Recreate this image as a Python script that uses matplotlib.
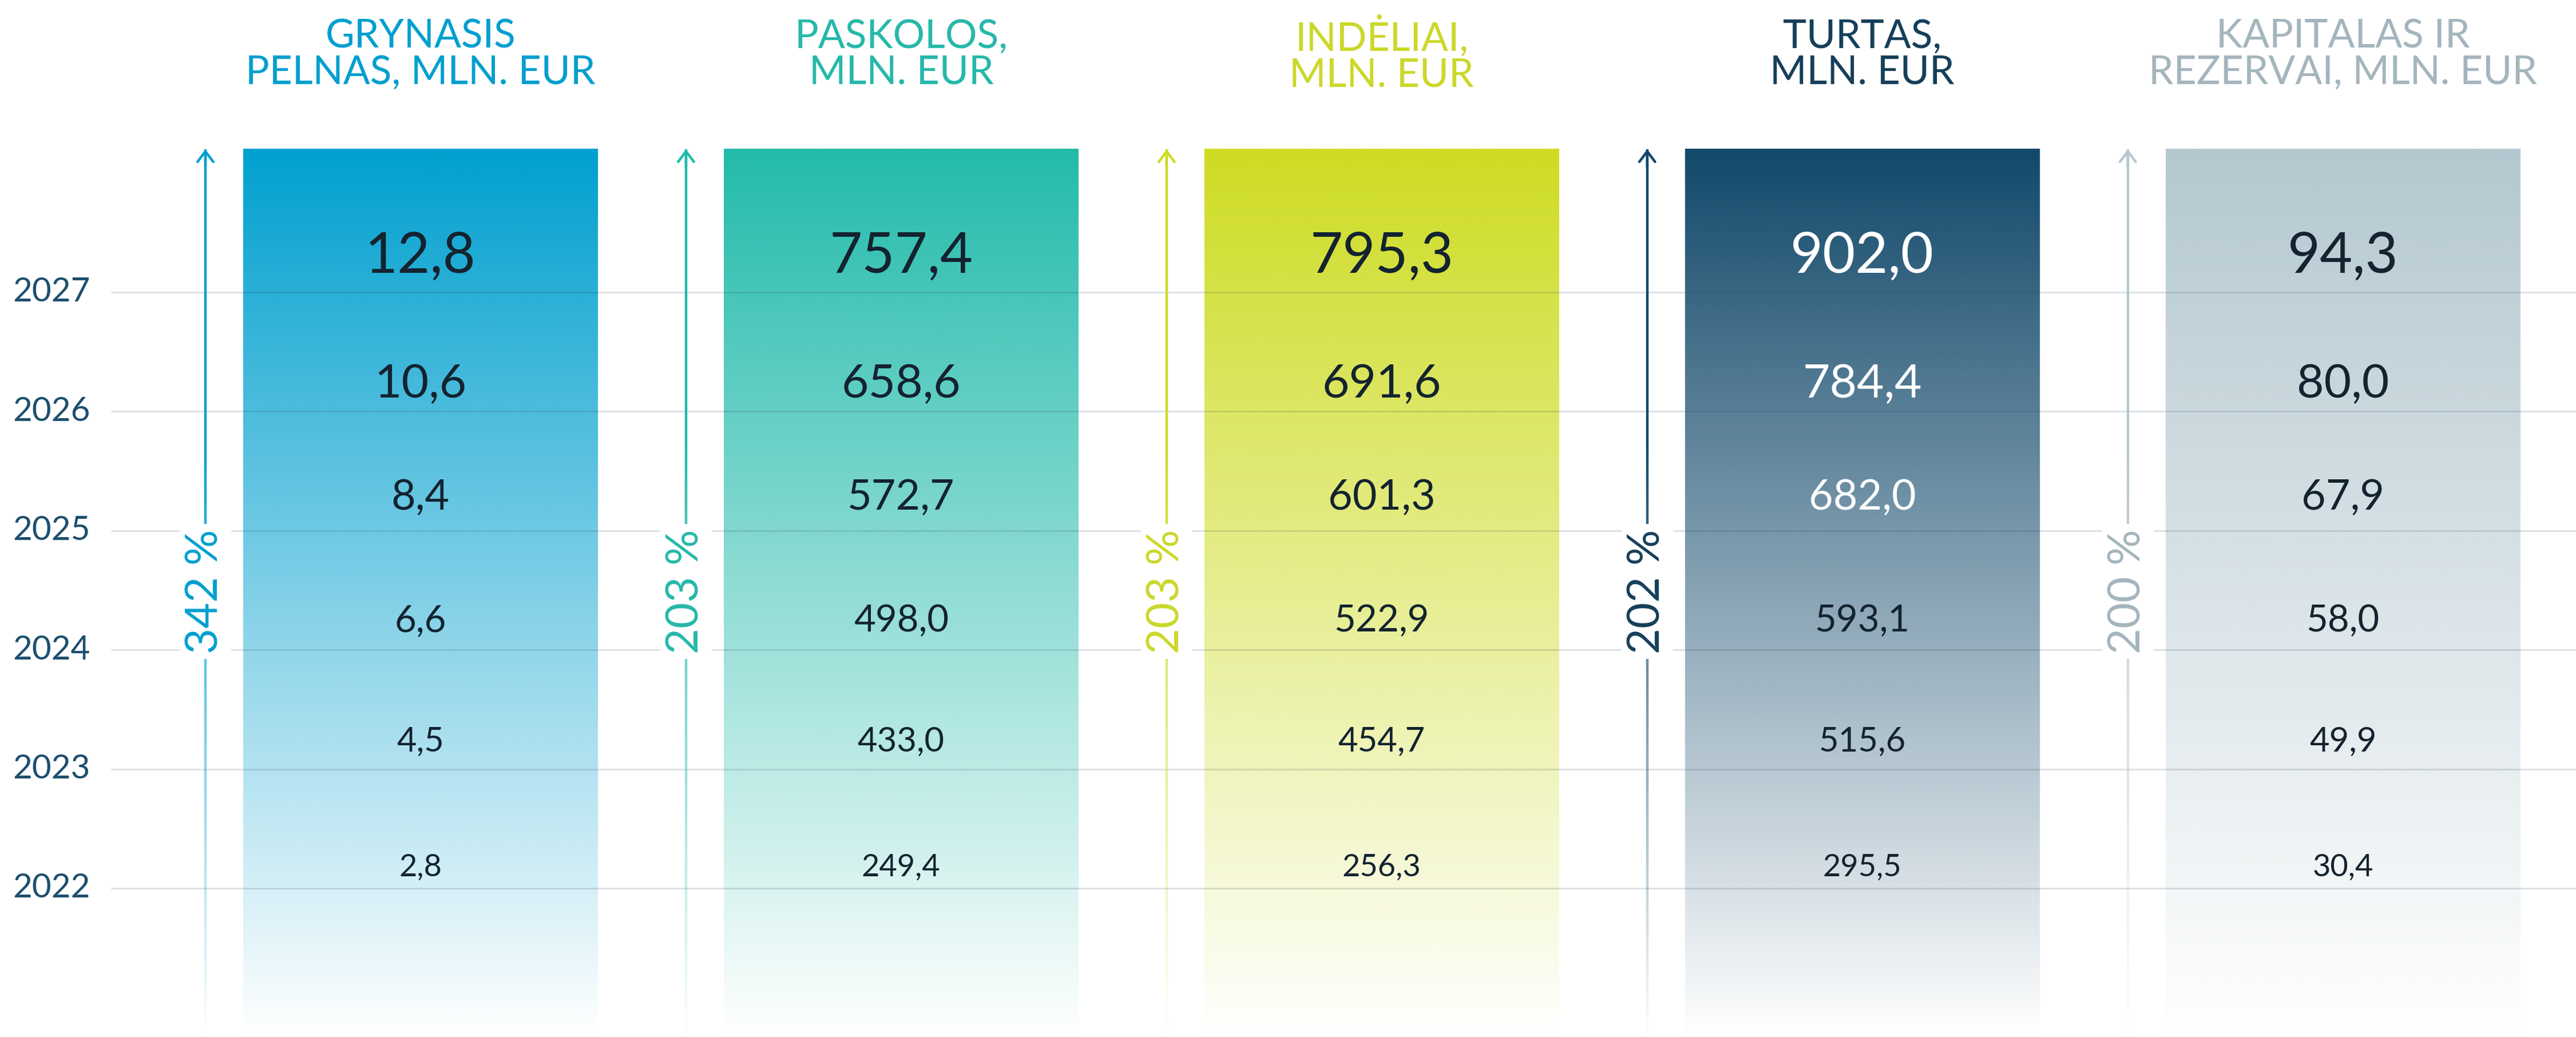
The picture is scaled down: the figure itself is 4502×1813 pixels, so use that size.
import numpy as np
import matplotlib.pyplot as plt
from matplotlib.collections import LineCollection
from matplotlib.colors import to_rgb

plt.rcParams['font.family'] = ['Lato', 'DejaVu Sans']

# Duomenys
YEARS = [2022, 2023, 2024, 2025, 2026, 2027]
TITLES = ["GRYNASIS\nPELNAS, MLN. EUR", "PASKOLOS,\nMLN. EUR", "INDĖLIAI,\nMLN. EUR",
          "TURTAS,\nMLN. EUR", "KAPITALAS IR\nREZERVAI, MLN. EUR"]
grynasis_pelnas = [2.8, 4.5, 6.6, 8.4, 10.6, 12.8]
paskolos = [249.4, 433.0, 498.0, 572.7, 658.6, 757.4]
indeliai = [256.3, 454.7, 522.9, 601.3, 691.6, 795.3]
turtas = [295.5, 515.6, 593.1, 682.0, 784.4, 902.0]
kapitalas = [30.4, 49.9, 58.0, 67.9, 80.0, 94.3]
GROWTH = [342, 203, 203, 202, 200]
SERIES = [grynasis_pelnas, paskolos, indeliai, turtas, kapitalas]

# Spalvos
BAR_COLORS = ['#00a0cf', '#22bbab', '#cedc22', '#11486a', '#b4c8d0']
TITLE_COLORS = ['#009fcf', '#26b8aa', '#cbd82a', '#153f5a', '#a4b5bd']
YEAR_COLOR = '#1d4f6e'
TEXT_DARK = '#13232f'
WHITE_LABELS = [(3, 2025), (3, 2026), (3, 2027)]

# Išdėstymas
Y_BOTTOM, Y_TOP = 2020.752, 2029.452
X_LEFT, X_RIGHT = -0.875, 4.485
BAR_HALF = 0.369
BAR_TOP = 2028.2
ARROW_DX = -0.4476
GRID_X0 = -0.644
LABEL_SIZES = [39, 43, 47, 53, 59, 71]
LABEL_OFFSETS = [0.103, 0.146, 0.156, 0.175, 0.118, 0.166]

fig = plt.figure(figsize=(45.02, 18.13), dpi=100)
ax = fig.add_axes([0, 0, 1, 1])
ax.axis('off')

n = 600
alpha = np.linspace(1.0, 0.0, n)

for i, (vals, col) in enumerate(zip(SERIES, BAR_COLORS)):
    rgb = np.array(to_rgb(col))
    img = np.zeros((n, 1, 4))
    img[:, 0, :3] = rgb
    img[:, 0, 3] = alpha
    ax.imshow(img, extent=[i - BAR_HALF, i + BAR_HALF, Y_BOTTOM, BAR_TOP],
              aspect='auto', interpolation='bilinear', zorder=1)

    # rodyklė su gradientu
    ax_x = i + ARROW_DX
    ys = np.linspace(Y_BOTTOM, BAR_TOP, 300)
    segs = [[(ax_x, ys[k]), (ax_x, ys[k + 1])] for k in range(len(ys) - 1)]
    a = np.clip(1.5 * (ys[:-1] - Y_BOTTOM) / (BAR_TOP - Y_BOTTOM), 0, 1)
    cols = [(*rgb, aa) for aa in a]
    ax.add_collection(LineCollection(segs, colors=cols, linewidths=3.2, zorder=3))
    ax.annotate('', xy=(ax_x, BAR_TOP), xytext=(ax_x, BAR_TOP - 0.15),
                arrowprops=dict(arrowstyle='->,head_length=0.4,head_width=0.3',
                                mutation_scale=33, lw=3.2, color=col,
                                shrinkA=0, shrinkB=0), zorder=3)

    ax.text(ax_x, 2024.49, f"{GROWTH[i]} %", rotation=90, ha='center', va='center',
            fontsize=56, color=TITLE_COLORS[i], zorder=5,
            bbox=dict(boxstyle='square,pad=0.12', fc='white', ec='none'))

    ax.text(i, 2028.996, TITLES[i], ha='center', va='center', multialignment='center',
            fontsize=50, color=TITLE_COLORS[i], linespacing=1.0)

    for j, (yr, v) in enumerate(zip(YEARS, vals)):
        c = 'white' if (i, yr) in WHITE_LABELS else TEXT_DARK
        ax.text(i, yr + LABEL_OFFSETS[j], f"{v:.1f}".replace('.', ','),
                ha='center', va='baseline', fontsize=LABEL_SIZES[j], color=c, zorder=6)

# Tinklelis
ax.hlines(YEARS, GRID_X0, X_RIGHT, colors='#2b3f55', alpha=0.18, linewidth=1.8, zorder=2)
for yr in YEARS:
    ax.text(-0.687, yr, str(yr), ha='right', va='center', fontsize=42,
            color=YEAR_COLOR)

ax.set_xlim(X_LEFT, X_RIGHT)
ax.set_ylim(Y_BOTTOM, Y_TOP)

fig.savefig('out.png', dpi=100, facecolor='white')
